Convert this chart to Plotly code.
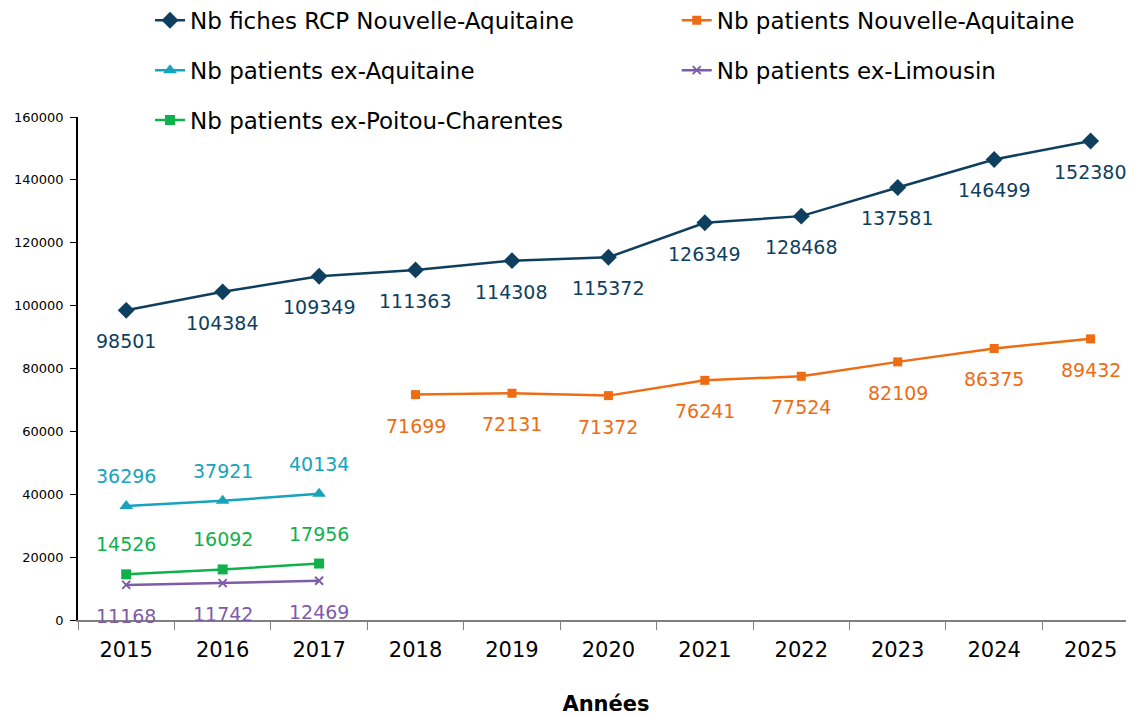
import plotly.graph_objects as go

years = ["2015", "2016", "2017", "2018", "2019", "2020", "2021", "2022", "2023", "2024", "2025"]
fiches_na = [98501, 104384, 109349, 111363, 114308, 115372, 126349, 128468, 137581, 146499, 152380]
patients_na = [None, None, None, 71699, 72131, 71372, 76241, 77524, 82109, 86375, 89432]
patients_aq = [36296, 37921, 40134] + [None] * 8
patients_li = [11168, 11742, 12469] + [None] * 8
patients_pc = [14526, 16092, 17956] + [None] * 8

FONT = "DejaVu Sans"
series = [
    ("Nb fiches RCP Nouvelle-Aquitaine", fiches_na, "#0E3F5F", "diamond", 13, "below", "legend"),
    ("Nb patients Nouvelle-Aquitaine", patients_na, "#EE6C13", "square", 9, "below", "legend2"),
    ("Nb patients ex-Aquitaine", patients_aq, "#16A3BC", "triangle-up", 12, "above", "legend"),
    ("Nb patients ex-Limousin", patients_li, "#7E5CA8", "x-thin", 8, "below", "legend2"),
    ("Nb patients ex-Poitou-Charentes", patients_pc, "#10B14C", "square", 10, "above", "legend"),
]

fig = go.Figure()
annotations = []
for i, (name, vals, color, sym, size, pos, leg) in enumerate(series):
    xs = [y for y, v in zip(years, vals) if v is not None]
    ys = [v for v in vals if v is not None]
    mk = dict(symbol=sym, size=size, color=color)
    if sym == "x-thin":
        mk["line"] = dict(color=color, width=2)
    fig.add_trace(go.Scatter(
        x=xs, y=ys, name=name, mode="lines+markers",
        line=dict(color=color, width=2.5), marker=mk,
        legend=leg, legendgroup=name,
    ))
    for x, y in zip(xs, ys):
        annotations.append(dict(
            x=years.index(x), y=y, xref="x", yref="y", text=str(y), showarrow=False,
            yshift=-31 if pos == "below" else 30,
            font=dict(family=FONT, size=19, color=color),
        ))

fig.update_layout(
    width=1126, height=709,
    margin=dict(l=70, r=0, t=109, b=97, autoexpand=False),
    paper_bgcolor="white", plot_bgcolor="white",
    font=dict(family=FONT, color="#000000"),
    showlegend=True,
    annotations=annotations,
    legend=dict(
        x=0.0682, y=1.235,
        xanchor="left", yanchor="top", orientation="v",
        traceorder="grouped", tracegroupgap=17,
        font=dict(family=FONT, size=23, color="#000000"),
        bgcolor="rgba(0,0,0,0)",
    ),
    legend2=dict(
        x=0.567, y=1.235,
        xanchor="left", yanchor="top", orientation="v",
        traceorder="grouped", tracegroupgap=17,
        font=dict(family=FONT, size=23, color="#000000"),
        bgcolor="rgba(0,0,0,0)",
    ),
    xaxis=dict(
        type="category", categoryorder="array", categoryarray=years,
        range=[-0.5, 10.45], automargin=False,
        showline=True, linecolor="#7f7f7f", linewidth=1.5,
        ticks="outside", tickson="boundaries", ticklen=8, tickcolor="#7f7f7f",
        showgrid=False, zeroline=False, tickangle=0, ticklabelstandoff=10,
        tickfont=dict(family=FONT, size=21, color="#000000"),
        title=dict(text="<b>Années</b>", font=dict(family=FONT, size=21, color="#000000"), standoff=35),
    ),
    yaxis=dict(
        range=[0, 160000], dtick=20000, automargin=False,
        showline=True, linecolor="#000000", linewidth=1.5,
        ticks="outside", ticklen=6, tickcolor="#000000", ticklabelstandoff=4,
        showgrid=False, zeroline=False, tickformat="d",
        tickfont=dict(family=FONT, size=13, color="#000000"),
    ),
)

fig.write_html("out.html")
